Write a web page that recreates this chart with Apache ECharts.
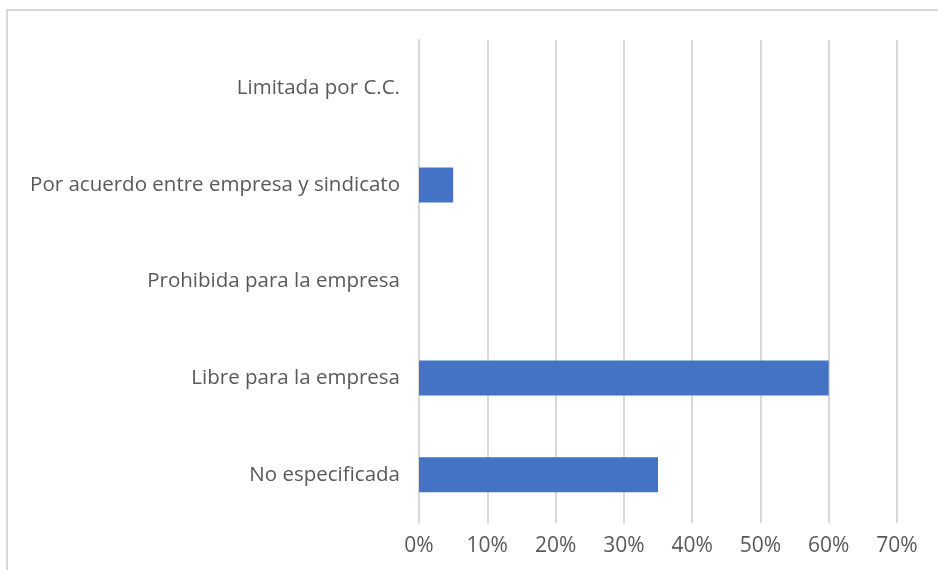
<!DOCTYPE html>
<html>
<head>
<meta charset="utf-8">
<style>
  html, body { margin: 0; padding: 0; background: #ffffff; }
  #chart { width: 938px; height: 570px; }
</style>
<script src="https://cdn.jsdelivr.net/npm/echarts@6/dist/echarts.min.js"></script>
</head>
<body>
<div id="chart"></div>
<script>
// Categories listed bottom-to-top (category axis on y starts at the bottom)
const categories = [
  'No especificada',
  'Libre para la empresa',
  'Prohibida para la empresa',
  'Por acuerdo entre empresa y sindicato',
  'Limitada por C.C.'
];
// Share of agreements, in percent
const shares = [35, 60, 0, 5, 0];
const tickMax = 70;
const tickStep = 10;

const chart = echarts.init(document.getElementById('chart'));
const font = '"Open Sans", "Noto Sans", sans-serif';

chart.setOption({
  animation: false,
  graphic: [{
    type: 'rect',
    shape: { x: 7, y: 10, width: 960, height: 600 },
    style: { fill: 'none', stroke: '#d9d9d9', lineWidth: 2 },
    silent: true
  }],
  grid: { left: 419, right: 41, top: 40, bottom: 47, containLabel: false },
  xAxis: {
    type: 'value',
    min: 0,
    max: tickMax,
    interval: tickStep,
    axisLine: { show: false },
    axisTick: { show: false },
    splitLine: { show: true, lineStyle: { color: '#d9d9d9', width: 2 } },
    axisLabel: {
      formatter: v => v + '%',
      color: '#595959',
      fontFamily: font,
      fontSize: 21,
      margin: 13
    }
  },
  yAxis: {
    type: 'category',
    data: categories,
    axisLine: { show: true, lineStyle: { color: '#d9d9d9', width: 2 } },
    axisTick: { show: false },
    axisLabel: {
      color: '#595959',
      fontFamily: font,
      fontSize: 20.5,
      margin: 19
    }
  },
  series: [{
    type: 'bar',
    data: shares,
    barWidth: 35,
    itemStyle: { color: '#4472c4' }
  }]
});
</script>
</body>
</html>
